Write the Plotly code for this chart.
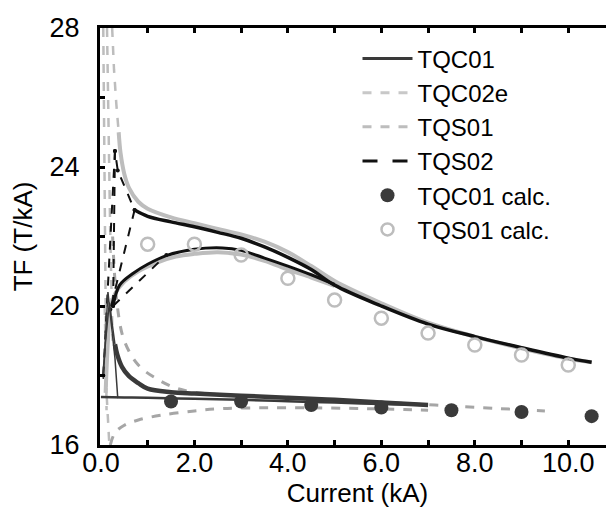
import plotly.graph_objects as go

# ---------------- data ----------------
# TQC01 measured (solid, dark) - ramp up (flat) and ramp down (rising at low current)
tqc01_up_i = [0.0, 0.5, 1.0, 2.0, 3.0, 4.0, 5.0, 6.0, 7.0]
tqc01_up_tf = [17.38, 17.37, 17.36, 17.33, 17.3, 17.26, 17.22, 17.18, 17.15]
tqc01_dn_i = [7.0, 6.0, 5.0, 4.0, 3.0, 2.0, 1.5, 1.0, 0.8, 0.6, 0.45, 0.35, 0.3]
tqc01_dn_tf = [17.15, 17.22, 17.3, 17.36, 17.42, 17.48, 17.52, 17.62, 17.78, 17.98, 18.25, 18.6, 18.9]
tqc01_spk_i = [0.05, 0.15, 0.3, 0.36, None, 0.3, 0.18, 0.1, 0.04]
tqc01_spk_tf = [17.9, 20.4, 18.5, 17.35, None, 18.9, 20.1, 19.0, 18.0]

# TQC02e measured (dashed, gray)
tqc02_dn_i = [0.25, 0.35, 0.5, 0.8, 1.2, 1.6, 2.0, 2.6, 3.5, 4.5, 5.5, 6.5, 7.5, 8.5, 9.5]
tqc02_dn_tf = [22.0, 20.0, 19.0, 18.3, 17.9, 17.64, 17.52, 17.44, 17.38, 17.32, 17.26, 17.2, 17.12, 17.05, 16.98]
tqc02_up_i = [0.2, 0.3, 0.5, 0.8, 1.3, 2.0, 2.6, 3.5, 4.5, 5.5, 6.5, 7.0]
tqc02_up_tf = [16.0, 16.35, 16.57, 16.72, 16.86, 16.98, 17.05, 17.07, 17.07, 17.05, 17.02, 17.0]

# TQS01 measured (gray)
tqs01_dn_i = [0.38, 0.42, 0.5, 0.6, 0.8, 1.0, 1.5, 2.0, 2.5, 3.0, 3.5, 4.0, 4.5, 5.0, 6.0, 7.0, 8.0, 9.0, 10.0, 10.5]
tqs01_dn_tf = [25.0, 24.4, 23.8, 23.4, 23.0, 22.8, 22.55, 22.38, 22.22, 22.06, 21.85, 21.55, 21.15, 20.72, 20.08, 19.52, 19.12, 18.78, 18.48, 18.38]
tqs01_up_i = [0.1, 0.15, 0.2, 0.3, 0.5, 0.8, 1.2, 1.6, 2.0, 2.5, 3.0, 3.5, 4.0, 4.5, 5.0]
tqs01_up_tf = [17.5, 19.0, 19.9, 20.35, 20.7, 21.0, 21.25, 21.42, 21.5, 21.55, 21.48, 21.3, 21.05, 20.82, 20.58]
tqs01_spk_i = [0.05, 0.07, 0.1, 0.12, None, 0.13, 0.16, 0.2, 0.25, None, 0.24, 0.28, 0.33, 0.38, None, 0.08, 0.12, 0.18]
tqs01_spk_tf = [28.0, 24.0, 20.0, 17.0, None, 28.0, 25.0, 22.0, 19.0, None, 28.0, 26.8, 25.8, 25.0, None, 20.0, 17.5, 16.0]

# TQS02 measured (black)
tqs02_up_i = [0.26, 0.4, 0.7, 1.0, 1.4, 2.0, 2.6, 3.0, 3.5, 4.0, 4.5, 5.0]
tqs02_up_tf = [20.0, 20.6, 20.95, 21.2, 21.45, 21.63, 21.67, 21.6, 21.38, 21.15, 20.9, 20.62]
tqs02_dn_i = [10.5, 10.0, 9.0, 8.0, 7.0, 6.0, 5.0, 4.5, 4.0, 3.5, 3.0, 2.5, 2.0, 1.5, 1.0, 0.72]
tqs02_dn_tf = [18.38, 18.5, 18.8, 19.12, 19.48, 20.0, 20.6, 21.05, 21.4, 21.7, 21.95, 22.12, 22.28, 22.42, 22.58, 22.76]
tqs02_sparse_i = [0.05, 0.3, 0.36, 0.72, None, 0.3, 0.26, None, 0.72, 0.2, None, 0.26, 1.4]
tqs02_sparse_tf = [18.0, 24.46, 23.9, 22.76, None, 24.46, 20.0, None, 22.76, 19.9, None, 20.0, 21.47]

# calculations
tqc01_calc_i = [1.5, 3.0, 4.5, 6.0, 7.5, 9.0, 10.5]
tqc01_calc_tf = [17.25, 17.25, 17.15, 17.08, 17.0, 16.95, 16.83]
tqs01_calc_i = [1.0, 2.0, 3.0, 4.0, 5.0, 6.0, 7.0, 8.0, 9.0, 10.0]
tqs01_calc_tf = [21.78, 21.78, 21.47, 20.8, 20.17, 19.65, 19.22, 18.88, 18.59, 18.3]

x_ticks = [0, 1, 2, 3, 4, 5, 6, 7, 8, 9, 10, 11]
x_labels = ["0.0", "", "2.0", "", "4.0", "", "6.0", "", "8.0", "", "10.0", ""]
y_ticks = [16, 18, 20, 22, 24, 26, 28]
y_labels = ["16", "", "20", "", "24", "", "28"]

# ---------------- styles ----------------
C_TQC01 = "#3a3a3a"
C_TQC02 = "#a6a6a6"
C_TQS01 = "#bdbdbd"
C_TQS02 = "#111111"
FONT = "Liberation Sans, Arial, sans-serif"

fig = go.Figure()

# --- data traces (no legend) ---
fig.add_trace(go.Scatter(x=tqs01_spk_i, y=tqs01_spk_tf, mode="lines",
                         line=dict(color=C_TQS01, width=2.5, dash="dash"), showlegend=False))
fig.add_trace(go.Scatter(x=tqs01_dn_i, y=tqs01_dn_tf, mode="lines",
                         line=dict(color=C_TQS01, width=4, shape="spline"), showlegend=False))
fig.add_trace(go.Scatter(x=tqs01_up_i, y=tqs01_up_tf, mode="lines",
                         line=dict(color=C_TQS01, width=4, shape="spline"), showlegend=False))
fig.add_trace(go.Scatter(x=tqc02_dn_i, y=tqc02_dn_tf, mode="lines",
                         line=dict(color=C_TQC02, width=3, dash="dash", shape="spline"), showlegend=False))
fig.add_trace(go.Scatter(x=tqc02_up_i, y=tqc02_up_tf, mode="lines",
                         line=dict(color=C_TQC02, width=3, dash="dash", shape="spline"), showlegend=False))
fig.add_trace(go.Scatter(x=tqs02_sparse_i, y=tqs02_sparse_tf, mode="lines+markers",
                         line=dict(color=C_TQS02, width=2, dash="dash"),
                         marker=dict(size=4, color=C_TQS02), showlegend=False))
fig.add_trace(go.Scatter(x=tqs02_up_i, y=tqs02_up_tf, mode="lines",
                         line=dict(color=C_TQS02, width=3, shape="spline"), showlegend=False))
fig.add_trace(go.Scatter(x=tqs02_dn_i, y=tqs02_dn_tf, mode="lines",
                         line=dict(color=C_TQS02, width=3.5, shape="spline"), showlegend=False))
fig.add_trace(go.Scatter(x=tqc01_spk_i, y=tqc01_spk_tf, mode="lines",
                         line=dict(color=C_TQC01, width=1.5), showlegend=False))
fig.add_trace(go.Scatter(x=tqc01_up_i, y=tqc01_up_tf, mode="lines",
                         line=dict(color=C_TQC01, width=2.5, shape="spline"), showlegend=False))
fig.add_trace(go.Scatter(x=tqc01_dn_i, y=tqc01_dn_tf, mode="lines",
                         line=dict(color=C_TQC01, width=4.5, shape="spline"), showlegend=False))

# --- calc markers ---
fig.add_trace(go.Scatter(x=tqc01_calc_i, y=tqc01_calc_tf, mode="markers", showlegend=False,
                         marker=dict(size=14, color=C_TQC01)))
fig.add_trace(go.Scatter(x=tqs01_calc_i, y=tqs01_calc_tf, mode="markers", showlegend=False,
                         marker=dict(size=13, symbol="circle-open", color=C_TQS01, line=dict(width=2.5))))

# --- legend entries ---
def leg(name, **kw):
    fig.add_trace(go.Scatter(x=[None], y=[None], name=name, **kw))

leg("TQC01", mode="lines", line=dict(color=C_TQC01, width=3))
leg("TQC02e", mode="lines", line=dict(color="#c8c8c8", width=3, dash="dash"))
leg("TQS01", mode="lines", line=dict(color=C_TQS01, width=3, dash="dash"))
leg("TQS02", mode="lines", line=dict(color=C_TQS02, width=3, dash="longdash"))
leg("TQC01 calc.", mode="markers", marker=dict(size=14, color=C_TQC01))
leg("TQS01 calc.", mode="markers", marker=dict(size=12, symbol="circle-open", color=C_TQS01, line=dict(width=2.5)))

axis_common = dict(showline=True, linewidth=3, linecolor="black", mirror="ticks",
                   ticks="inside", ticklen=5, tickwidth=3, tickcolor="black",
                   showgrid=False, zeroline=False,
                   tickfont=dict(family=FONT, size=27, color="black"))

fig.update_layout(
    width=614, height=513,
    margin=dict(l=92, r=7, t=20, b=76, autoexpand=False),
    paper_bgcolor="white", plot_bgcolor="white",
    font=dict(family=FONT, color="black"),
    xaxis=dict(range=[-0.02, 11], tickmode="array", tickvals=x_ticks, ticktext=x_labels,
               ticklabelstandoff=-8, automargin=False,
               title=dict(text="Current (kA)", font=dict(family=FONT, size=26), standoff=0),
               **axis_common),
    yaxis=dict(range=[16, 28], tickmode="array", tickvals=y_ticks, ticktext=y_labels,
               ticklabelstandoff=12, automargin=False,
               title=dict(text="TF (T/kA)", font=dict(family=FONT, size=26), standoff=10),
               **axis_common),
    legend=dict(x=0.5, y=0.98, xanchor="left", yanchor="top",
                bgcolor="rgba(0,0,0,0)", font=dict(family=FONT, size=24),
                itemwidth=50, tracegroupgap=0),
)

fig.write_html("out.html")
